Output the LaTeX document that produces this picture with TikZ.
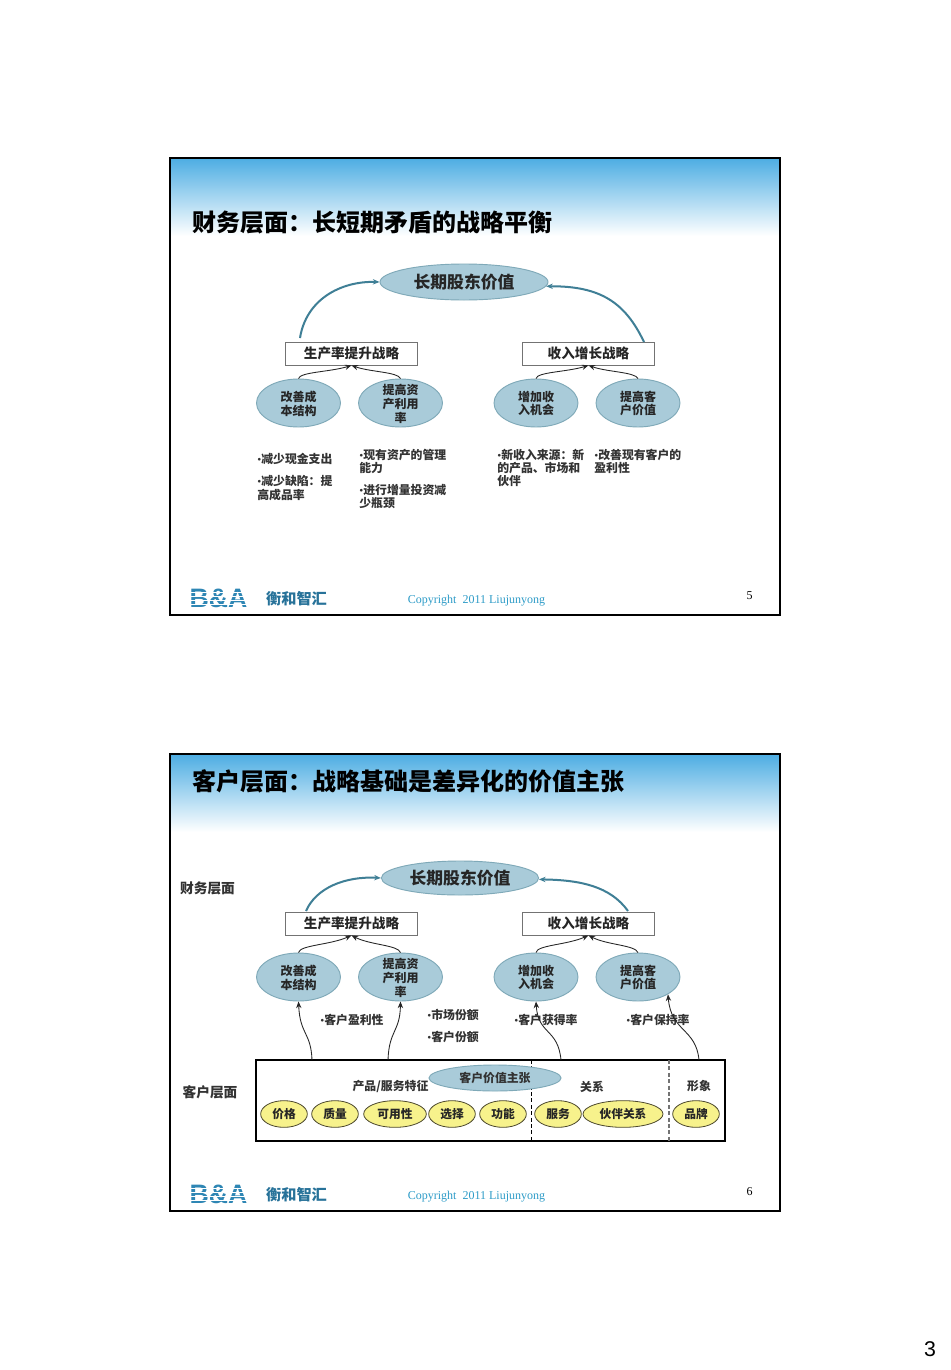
\documentclass[tikz,border=0pt]{standalone}
\usepackage{fontspec}
\usetikzlibrary{shapes.geometric,arrows.meta}
\setmainfont{Noto Sans CJK SC}
\newfontfamily\serifl{Liberation Serif}
\newfontfamily\sansl{Liberation Sans}
\definecolor{headblue}{HTML}{4FAEE3}
\definecolor{ovalfill}{HTML}{A9CBD9}
\definecolor{ovaledge}{HTML}{7FA9B8}
\definecolor{tealarrow}{HTML}{3F7F96}
\definecolor{ovalyellow}{HTML}{F7F28C}
\definecolor{logoblue}{HTML}{2E86B4}
\definecolor{copyblue}{HTML}{2E9CC8}
\newcommand\bul{\makebox[3pt][c]{\fontsize{7.5}{7.5}\selectfont •}}
\newcommand\fwc{^^^^ff1a}
\tikzset{
  x=0.75pt,y=-0.75pt,
  slideframe/.style={draw=black,line width=.95pt},
  headband/.style={top color=headblue,bottom color=white,draw=none},
  titletxt/.style={anchor=west,inner sep=0,font=\fontsize{18}{20}\selectfont\bfseries},
  bigoval/.style={ellipse,draw=ovaledge,fill=ovalfill,line width=.7pt,inner sep=0},
  bigtxt/.style={inner sep=0,font=\fontsize{12.6}{14}\selectfont\bfseries,text=black!85},
  oval/.style={ellipse,draw=ovaledge,fill=ovalfill,line width=.7pt,inner sep=0,minimum width=63pt,minimum height=36pt},
  ovaltxt/.style={inner sep=0,align=center,font=\fontsize{9}{10.3}\selectfont\bfseries,text=black!85},
  stratbox/.style={draw=black!55,fill=white,line width=.6pt,inner sep=0,minimum width=98.5pt,minimum height=17.2pt,font=\fontsize{10.2}{12}\selectfont\bfseries,text=black!85},
  bullettxt/.style={anchor=north west,inner sep=0,align=left,font=\fontsize{8.9}{10.1}\selectfont\bfseries,text=black!80},
  sidetxt/.style={inner sep=0,font=\fontsize{10.3}{12}\selectfont\bfseries,text=black!80},
  smalltxt/.style={inner sep=0,font=\fontsize{8.9}{10}\selectfont\bfseries,text=black!80},
  yoval/.style={ellipse,draw=black!60!olive,fill=ovalyellow,line width=.6pt,inner sep=0,minimum height=20pt,font=\fontsize{8.8}{10}\selectfont\bfseries,text=black!85},
  thickarrow/.style={draw=tealarrow,line width=1.5pt,-{Stealth[length=5pt,width=4pt]}},
  thinarrow/.style={draw=black!85,line width=.65pt,-{Stealth[length=5pt,width=4pt]}},
  logotxt/.style={inner sep=0,text=logoblue,font=\sansl\fontsize{20}{20}\selectfont\bfseries},
  logocn/.style={inner sep=0,text=logoblue!85!black,font=\fontsize{11.4}{12}\selectfont\bfseries},
  copytxt/.style={inner sep=0,text=copyblue,font=\serifl\fontsize{9}{10}\selectfont},
  pagenum/.style={inner sep=0,font=\serifl\fontsize{9}{10}\selectfont},
  stripe/.style={draw=white,line width=.6pt},
  dashblack/.style={draw=black,line width=.7pt,dash pattern=on 3pt off 1.8pt},
  dashgray/.style={draw=black!55,line width=.95pt,dash pattern=on 3pt off 1.8pt},
}
\begin{document}
\begin{tikzpicture}
\useasboundingbox (0,0) rectangle (950,1370);
\fill[white] (0,0) rectangle (950,1370);

% ---------- slide 1 ----------
\shade[headband] (170,159) rectangle (780,236);
\draw[slideframe] (170,158) rectangle (780,615);
\node[titletxt] (t1) at (192,223) {财务层面\fwc 长短期矛盾的战略平衡};

\node[bigoval,minimum width=126pt,minimum height=27pt] (a0) at (464,282) {};
\node[bigtxt] (a0t) at (a0) {长期股东价值};
\node[stratbox] (a1) at (351.5,353.5) {生产率提升战略};
\node[stratbox] (a2) at (588.5,353.5) {收入增长战略};
\node[oval] (a3) at (298.5,403) {};
\node[ovaltxt] (a3t) at (298.5,403.5) {改善成\\本结构};
\node[oval] (a4) at (400.5,403) {};
\node[ovaltxt] (a4t) at (400.5,404) {提高资\\产利用\\率};
\node[oval] (a5) at (536,403) {};
\node[ovaltxt] (a5t) at (536,403.5) {增加收\\入机会};
\node[oval] (a6) at (638,403) {};
\node[ovaltxt] (a6t) at (638,403.5) {提高客\\户价值};

\coordinate (a1s) at (300,338);
\coordinate (a2s) at (644,342);
\draw[thickarrow] (a1s) .. controls (306,300) and (340,281) .. (a0.west);
\draw[thickarrow] (a2s) .. controls (625,302) and (600,286) .. (a0.-3);
\draw[thinarrow] (a3.north) .. controls (300,372) and (330,372) .. (a1.south);
\draw[thinarrow] (a4.north) .. controls (398,372) and (370,372) .. (a1.south);
\draw[thinarrow] (a5.north) .. controls (537,372) and (567,372) .. (a2.south);
\draw[thinarrow] (a6.north) .. controls (635,372) and (607,372) .. (a2.south);

\node[bullettxt] (b1) at (257,453) {\bul 减少现金支出};
\node[bullettxt] (b2) at (257,475.5) {\bul 减少缺陷\fwc 提\\高成品率};
\node[bullettxt] (b3) at (359,448.5) {\bul 现有资产的管理\\能力};
\node[bullettxt] (b4) at (359,484) {\bul 进行增量投资减\\少瓶颈};
\node[bullettxt] (b5) at (497,448.5) {\bul 新收入来源\fwc 新\\的产品、市场和\\伙伴};
\node[bullettxt] (b6) at (594,448.5) {\bul 改善现有客户的\\盈利性};

\node[logotxt] (l1) at (218.5,598) {B\&A};
\foreach \yy in {592.5,596.5,600.5,604.5}{\draw[stripe] (188,\yy) -- (250,\yy);}
\node[logocn] (l1c) at (296.5,598.5) {衡和智汇};
\node[copytxt] (c1) at (476.5,601) {Copyright\ \ 2011 Liujunyong};
\node[pagenum] (p1) at (749.5,596) {5};

% ---------- slide 2 ----------
\shade[headband] (170,755) rectangle (780,832);
\draw[slideframe] (170,754) rectangle (780,1211);
\node[titletxt] (t2) at (192,781) {客户层面\fwc 战略基础是差异化的价值主张};

\node[sidetxt] (s1) at (207.5,888) {财务层面};
\node[sidetxt] (s2) at (210,1092) {客户层面};

\node[bigoval,minimum width=118pt,minimum height=25.5pt] (d0) at (460,878) {};
\node[bigtxt] (d0t) at (d0) {长期股东价值};
\node[stratbox] (d1) at (351.5,923.5) {生产率提升战略};
\node[stratbox] (d2) at (588.5,923.5) {收入增长战略};
\node[oval] (d3) at (298.5,977) {};
\node[ovaltxt] (d3t) at (298.5,977.5) {改善成\\本结构};
\node[oval] (d4) at (400.5,977) {};
\node[ovaltxt] (d4t) at (400.5,978) {提高资\\产利用\\率};
\node[oval] (d5) at (536,977) {};
\node[ovaltxt] (d5t) at (536,977.5) {增加收\\入机会};
\node[oval] (d6) at (638,977) {};
\node[ovaltxt] (d6t) at (638,977.5) {提高客\\户价值};

\coordinate (d1s) at (306,911);
\coordinate (d2s) at (628,911);
\draw[thickarrow] (d1s) .. controls (316,888) and (345,876) .. (d0.west);
\draw[thickarrow] (d2s) .. controls (610,886) and (580,880) .. (d0.-1);
\draw[thinarrow] (d3.north) .. controls (300,945) and (330,945) .. (d1.south);
\draw[thinarrow] (d4.north) .. controls (398,945) and (370,945) .. (d1.south);
\draw[thinarrow] (d5.north) .. controls (537,945) and (567,945) .. (d2.south);
\draw[thinarrow] (d6.north) .. controls (635,945) and (607,945) .. (d2.south);

\node[bullettxt] (e1) at (320,1014) {\bul 客户盈利性};
\node[bullettxt] (e2) at (427,1009) {\bul 市场份额};
\node[bullettxt] (e3) at (427,1030.5) {\bul 客户份额};
\node[bullettxt] (e4) at (514,1014) {\bul 客户获得率};
\node[bullettxt] (e5) at (626,1014) {\bul 客户保持率};

\node[draw=black,line width=1.5pt,fill=white,inner sep=0,minimum width=351.75pt,minimum height=60.75pt] (bb) at (490.5,1100.5) {};
\coordinate (f1) at (312,1060);
\coordinate (f2) at (388,1060);
\coordinate (f3) at (561,1060);
\coordinate (f4) at (699,1060);
\draw[thinarrow] (f1) .. controls (311,1032) and (300,1035) .. (d3.south);
\draw[thinarrow] (f2) .. controls (389,1030) and (400,1032) .. (d4.south);
\draw[thinarrow] (f3) .. controls (558,1028) and (538,1035) .. (d5.south);
\draw[thinarrow] (f4) .. controls (696,1028) and (671,1032) .. (d6.-30);

\coordinate (g1) at (531,1060);
\coordinate (g2) at (531,1141);
\coordinate (g3) at (669,1060);
\coordinate (g4) at (669,1141);
\draw[dashblack] (g1) -- (g2);
\draw[dashgray] (g3) -- (g4);

\node[bigoval,minimum width=99pt,minimum height=19.5pt] (v0) at (495,1078) {};
\node[smalltxt] (v0t) at (v0) {客户价值主张};
\node[smalltxt] (h1) at (390.5,1086.5) {产品/服务特征};
\node[smalltxt] (h2) at (592,1086.5) {关系};
\node[smalltxt] (h3) at (699,1086.5) {形象};

\node[yoval,minimum width=35pt] (y1) at (284,1114) {价格};
\node[yoval,minimum width=35pt] (y2) at (335,1114) {质量};
\node[yoval,minimum width=47pt] (y3) at (395,1114) {可用性};
\node[yoval,minimum width=35pt] (y4) at (452,1114) {选择};
\node[yoval,minimum width=35pt] (y5) at (503,1114) {功能};
\node[yoval,minimum width=35pt] (y6) at (558,1114) {服务};
\node[yoval,minimum width=60pt] (y7) at (623,1114) {伙伴关系};
\node[yoval,minimum width=35pt] (y8) at (696,1114) {品牌};

\node[logotxt] (l2) at (218.5,1194) {B\&A};
\foreach \yy in {1188.5,1192.5,1196.5,1200.5}{\draw[stripe] (188,\yy) -- (250,\yy);}
\node[logocn] (l2c) at (296.5,1194.5) {衡和智汇};
\node[copytxt] (c2) at (476.5,1197) {Copyright\ \ 2011 Liujunyong};
\node[pagenum] (p2) at (749.5,1192) {6};

\node[inner sep=0,font=\sansl\fontsize{16}{18}\selectfont] (pg) at (930,1349) {3};
\end{tikzpicture}
\end{document}
